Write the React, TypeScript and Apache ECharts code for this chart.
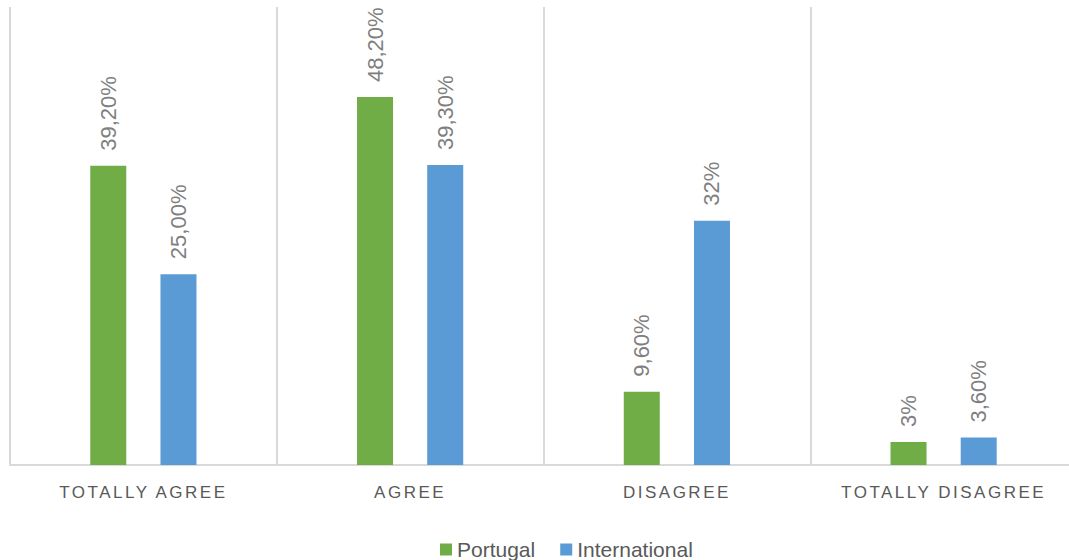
import React, { useEffect, useRef } from "react";
import * as echarts from "echarts";

const categories = ["TOTALLY AGREE", "AGREE", "DISAGREE", "TOTALLY DISAGREE"];
const portugal = [39.2, 48.2, 9.6, 3];
const international = [25, 39.3, 32, 3.6];
const portugalLabels = ["39,20%", "48,20%", "9,60%", "3%"];
const internationalLabels = ["25,00%", "39,30%", "32%", "3,60%"];

const GREEN = "#70AD47";
const BLUE = "#5B9BD5";
const AXIS_TEXT = "#595958";

export default function App() {
  const ref = useRef<HTMLDivElement>(null);

  useEffect(() => {
    if (!ref.current) return;
    const chart = echarts.init(ref.current, undefined, { renderer: "svg" });

    const labelStyle = (texts: string[]) => ({
      show: true,
      position: "top" as const,
      rotate: 90,
      align: "left" as const,
      verticalAlign: "middle" as const,
      distance: 15,
      color: "#7f7f7f",
      fontSize: 22,
      fontFamily: "Liberation Sans",
      formatter: (p: any) => texts[p.dataIndex],
    });

    chart.setOption({
      animation: false,
      grid: { left: 10, top: 7, right: 0, height: 458, containLabel: false },
      legend: {
        left: 435,
        top: 534,
        itemWidth: 12,
        itemHeight: 12,
        itemGap: 25,
        icon: "rect",
        textStyle: { color: "#595959", fontSize: 21, fontFamily: "Liberation Sans" },
        data: ["Portugal", "International"],
      },
      xAxis: {
        type: "category",
        data: categories,
        axisTick: { show: false },
        axisLine: { lineStyle: { color: "#d9d9d9", width: 2 } },
        axisLabel: {
          color: AXIS_TEXT,
          fontSize: 17,
          fontFamily: "Liberation Sans",
          margin: 19,
        },
        splitLine: { show: true, interval: 0, lineStyle: { color: "#d9d9d9", width: 2 } },
      },
      yAxis: { type: "value", min: 0, max: 60, show: false },
      series: [
        {
          name: "Portugal",
          type: "bar",
          data: portugal,
          barWidth: 36,
          barGap: "95%",
          itemStyle: { color: GREEN },
          label: labelStyle(portugalLabels),
        },
        {
          name: "International",
          type: "bar",
          data: international,
          barWidth: 36,
          itemStyle: { color: BLUE },
          label: labelStyle(internationalLabels),
        },
      ],
    });

    return () => chart.dispose();
  }, []);

  return (
    <div style={{ position: "absolute", left: 0, top: 0, width: 1069, height: 560, overflow: "hidden", background: "#fff" }}>
      <style>{`#bar-chart text[fill="${AXIS_TEXT}"]{letter-spacing:2.5px}`}</style>
      <div id="bar-chart" ref={ref} style={{ width: 1077, height: 560 }} />
    </div>
  );
}
